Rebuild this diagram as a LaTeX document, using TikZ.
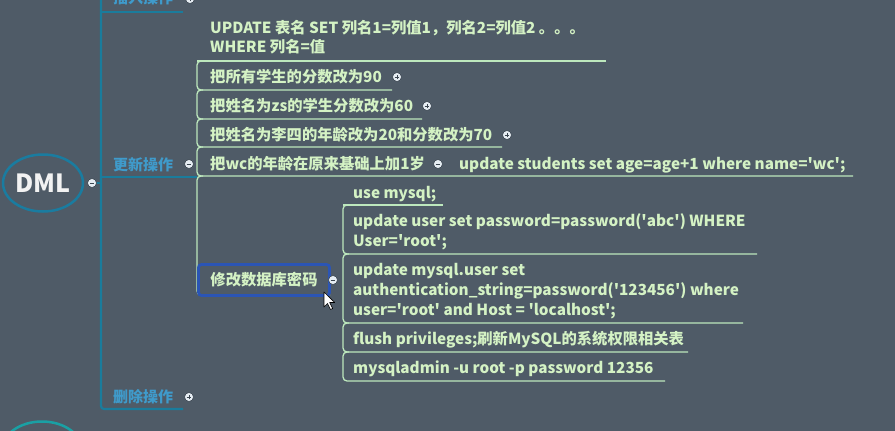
\documentclass[tikz,border=0pt]{standalone}
\usepackage{fontspec}
\setmainfont{Noto Sans CJK SC}[Ligatures=TeXOff]
\usetikzlibrary{shapes.geometric}
\definecolor{bg}{HTML}{4F5B67}
\definecolor{trunkc}{HTML}{1A7C9C}
\definecolor{ellc}{HTML}{1A7CA0}
\definecolor{ell2}{HTML}{1AA0A4}
\definecolor{topicc}{HTML}{3F9BCB}
\definecolor{leafc}{HTML}{D4F2C4}
\definecolor{leafl}{HTML}{BDE8BD}
\definecolor{selc}{HTML}{2B55B5}
\definecolor{togfill}{HTML}{E6EDF3}
\definecolor{togdraw}{HTML}{3A4550}
\tikzset{
  leaf/.style={inner sep=0, anchor=base west, text=leafc, font=\bfseries\fontsize{15.3}{19}\selectfont},
  topic/.style={inner sep=0, anchor=base west, text=topicc, font=\bfseries\fontsize{15}{19}\selectfont},
  trunk/.style={draw=trunkc, line width=2.2},
  branch/.style={draw=leafl, line width=1.3, rounded corners=4},
  tog/.style={circle, fill=togfill, draw=togdraw, line width=0.6, minimum size=9, inner sep=0},
  togminus/.style={tog, path picture={\draw[togdraw, line width=1] ([xshift=-2.3pt]path picture bounding box.center) -- ([xshift=2.3pt]path picture bounding box.center);}},
  togplus/.style={tog, path picture={\draw[togdraw, line width=1] ([xshift=-2.3pt]path picture bounding box.center) -- ([xshift=2.3pt]path picture bounding box.center) ([yshift=-2.3pt]path picture bounding box.center) -- ([yshift=2.3pt]path picture bounding box.center);}}
}
\begin{document}
\begin{tikzpicture}[x=1pt,y=-1pt]
\useasboundingbox (0,0) rectangle (895,431);
\fill[bg] (0,0) rectangle (895,431);
\clip (0,0) rectangle (895,431);

% central topic and neighbour
\node[ellipse, draw=ellc, line width=2.5, minimum width=80, minimum height=57, inner sep=0,
      text=white!90!gray, font=\bfseries\fontsize{25}{28}\selectfont] (dml) at (43,183) {DML};
\node[ellipse, draw=ell2, line width=2.5, minimum width=80, minimum height=57] (next) at (42,450) {};

% trunk
\draw[trunk, rounded corners=3] (101,-5) -- (101,409) -- (183,409);
\draw[trunk] (101,12) -- (183,12);
\draw[trunk] (101,177) -- (197,177);
\draw[trunk] (96,183) -- (101,183);

% topics
\node[topic] (ins) at (113,3.5) {插入操作};
\node[topic] (upd) at (113,170) {更新操作};
\node[topic] (del) at (113,402) {删除操作};

% first-level bracket
\draw[branch] (197,61) -- (606,61);
\draw[branch] (203,61) -- (197,61) -- (197,90) -- (392,90);
\draw[branch] (203,90) -- (197,90) -- (197,119) -- (422,119);
\draw[branch] (203,119) -- (197,119) -- (197,147) -- (502,147);
\draw[branch] (203,147) -- (197,147) -- (197,176) -- (853,176);
\draw[branch] (203,176) -- (197,176) -- (197,295) -- (330,295);

\node[leaf] (u1) at (210,33) {UPDATE 表名 SET 列名1=列值1，列名2=列值2 。。。};
\node[leaf] (u2) at (210,52.5) {WHERE 列名=值};
\node[leaf] (c1) at (210,82) {把所有学生的分数改为90};
\node[leaf] (c2) at (210,111) {把姓名为zs的学生分数改为60};
\node[leaf] (c3) at (210,140) {把姓名为李四的年龄改为20和分数改为70};
\node[leaf] (c4) at (210,169) {把wc的年龄在原来基础上加1岁};
\node[leaf] (c4a) at (459,169.5) {update students set age=age+1 where name='wc';};

% selected node
\node[draw=selc, line width=2.8, rounded corners=3, fill=bg, minimum width=131, minimum height=31,
      inner sep=0, text=leafc, font=\bfseries\fontsize{15.3}{19}\selectfont] (pwd) at (264,280) {修改数据库密码};

% second-level bracket
\draw[branch] (343,205) -- (443,205);
\draw[branch] (349,205) -- (343,205) -- (343,254) -- (757,254);
\draw[branch] (349,254) -- (343,254) -- (343,323) -- (743,323);
\draw[branch] (349,323) -- (343,323) -- (343,352) -- (688,352);
\draw[branch] (349,352) -- (343,352) -- (343,381) -- (665,381);

\node[leaf] (p1) at (353,198) {use mysql;};
\node[leaf] (p2a) at (353,226.5) {update user set password=password('abc') WHERE};
\node[leaf] (p2b) at (353,246.5) {User='root';};
\node[leaf] (p3a) at (353,275.5) {update mysql.user set};
\node[leaf] (p3b) at (353,295.5) {authentication\_string=password('123456') where};
\node[leaf] (p3c) at (353,315.5) {user='root' and Host = 'localhost';};
\node[leaf] (p4) at (353,344.5) {flush privileges;刷新MySQL的系统权限相关表};
\node[leaf] (p5) at (353,373.5) {mysqladmin -u root -p password 12356};

% toggles
\node[togminus] (tdml) at (92,183) {};
\node[togplus] (tins) at (190,-1) {};
\node[togminus] (tupd) at (189,164) {};
\node[togplus] (tdel) at (189,397) {};
\node[togplus] (tc1) at (397,77) {};
\node[togplus] (tc2) at (427,106) {};
\node[togplus] (tc3) at (507,135) {};
\node[togminus] (tc4) at (438,164) {};
\node[togminus] (tpwd) at (333,280) {};

% mouse pointer
\filldraw[fill=white, draw=black, line width=0.6, line join=round]
  (324,292) -- ++(0,15) -- ++(3.5,-3.5) -- ++(3,6) -- ++(2.2,-1) -- ++(-3,-6) -- ++(5,0) -- cycle;
\end{tikzpicture}
\end{document}
